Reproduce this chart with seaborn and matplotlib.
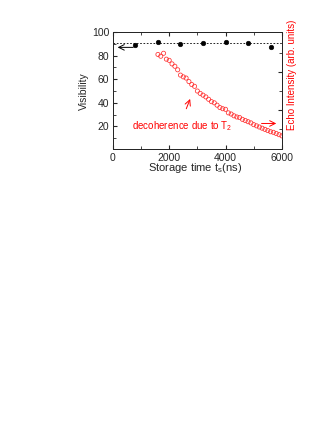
import numpy as np
import pandas as pd
import matplotlib
matplotlib.use("Agg")
import matplotlib.pyplot as plt
import seaborn as sns

# visibility data (black dots)
vis_time = [800, 1600, 2400, 3200, 4000, 4800, 5600]
visibility = [89, 91.5, 89.5, 91, 91.5, 91, 87]
vis_mean = 90.5

# echo intensity data (red open circles), read on the visibility scale
echo_time = [1600, 1700, 1800, 1900, 2000, 2100, 2200, 2300, 2400, 2500,
             2600, 2700, 2800, 2900, 3000, 3100, 3200, 3300, 3400, 3500,
             3600, 3700, 3800, 3900, 4000, 4100, 4200, 4300, 4400, 4500,
             4600, 4700, 4800, 4900, 5000, 5100, 5200, 5300, 5400, 5500,
             5600, 5700, 5800, 5900, 6000]
echo = [81, 79.5, 82, 77, 76, 73, 71, 68, 63.5, 62,
        61, 58, 55.5, 54, 50, 48, 46.5, 45, 43, 41,
        40, 38, 36, 35, 34.5, 31.5, 30.5, 29, 28, 27.5,
        26, 25, 24, 23, 21.5, 20.5, 19.5, 18.5, 17.5, 16.5,
        15.5, 15, 14, 13, 12]

vis_df = pd.DataFrame({"t": vis_time, "v": visibility})
echo_df = pd.DataFrame({"t": echo_time, "e": echo})

sns.set_style("ticks")
plt.rcParams["font.family"] = ["Liberation Sans", "DejaVu Sans"]
plt.rcParams["mathtext.fontset"] = "custom"
plt.rcParams["mathtext.rm"] = "Liberation Sans"
plt.rcParams["mathtext.it"] = "Liberation Sans"

fig = plt.figure(figsize=(3.32, 4.30), dpi=100)
ax = fig.add_axes([0.340, 0.6525, 0.509, 0.273])

sns.scatterplot(data=vis_df, x="t", y="v", ax=ax, color="black", s=11,
                marker="o", edgecolor="black", linewidth=0.4, zorder=3)
ax.axhline(vis_mean, color="black", linestyle=(0, (2, 2)), linewidth=0.6)

ax.set_xlim(0, 6000)
ax.set_ylim(0.5, 100)
ax.set_xticks([0, 2000, 4000, 6000])
ax.set_xticks([1000, 3000, 5000], minor=True)
ax.set_yticks([20, 40, 60, 80, 100])
ax.set_yticks([10, 30, 50, 70, 90], minor=True)
ax.tick_params(direction="in", which="both", top=True, length=3, labelsize=7.5, pad=2.5)
ax.tick_params(which="minor", length=2)
ax.set_xlabel("Storage time t$_s$(ns)", fontsize=8)
ax.xaxis.set_label_coords(0.488, -0.1)
ax.set_ylabel("Visibility", fontsize=7.5)
ax.yaxis.set_label_coords(-0.14, 0.5)
for s in ax.spines.values():
    s.set_linewidth(0.7)

ax2 = ax.twinx()
sns.scatterplot(data=echo_df, x="t", y="e", ax=ax2, s=9, marker="o",
                facecolor="none", edgecolor="#ff3030", linewidth=0.55)
ax2.set_ylim(0.5, 100)
ax2.set_yticks([34, 66])
ax2.set_yticks([18, 50, 82], minor=True)
ax2.tick_params(direction="in", which="both", length=3, labelright=False)
ax2.tick_params(which="minor", length=2)
ax2.set_ylabel("Echo Intensity (arb. units)", color="red", fontsize=7)
ax2.yaxis.set_label_coords(1.03, 0.634)
for s in ax2.spines.values():
    s.set_linewidth(0.7)

ax.annotate("", xy=(70, 87), xytext=(820, 87),
            arrowprops=dict(arrowstyle="->", color="black", lw=0.7))
ax2.annotate("", xy=(5900, 22.5), xytext=(5180, 22.5),
             arrowprops=dict(arrowstyle="->", color="red", lw=0.7))
ax2.annotate("", xy=(2780, 45.5), xytext=(2570, 32.8),
             arrowprops=dict(arrowstyle="->", color="red", lw=0.7))
ax2.text(690, 20.5, "decoherence due to T$_2$", color="red", fontsize=7, va="center")

fig.savefig("out.png", dpi=100)
